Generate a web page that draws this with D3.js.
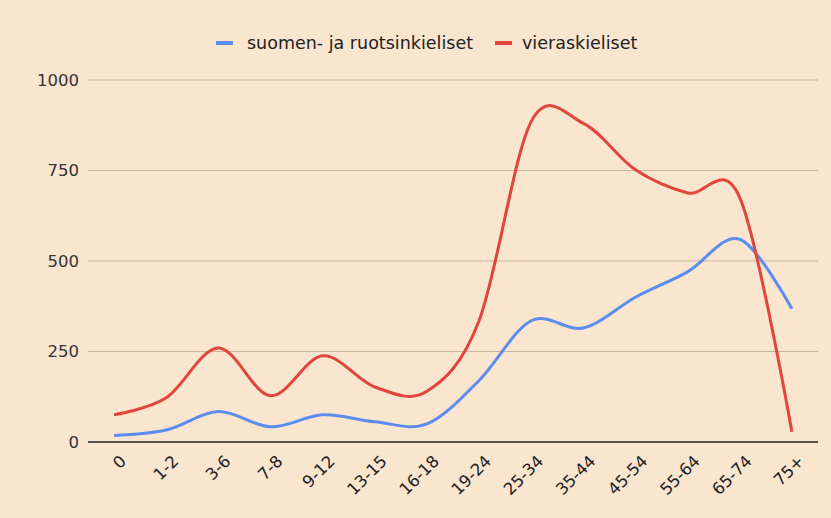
<!DOCTYPE html>
<html>
<head>
<meta charset="utf-8">
<script src="https://cdn.jsdelivr.net/npm/d3@7"></script>
<style>
  body { margin: 0; background: #fae5cf; }
  svg { display: block; font-family: "DejaVu Sans", sans-serif; }
</style>
</head>
<body>
<div id="chart"></div>
<script>
// age groups on the x axis
var ageGroups = ["0", "1-2", "3-6", "7-8", "9-12", "13-15", "16-18", "19-24",
                 "25-34", "35-44", "45-54", "55-64", "65-74", "75+"];
// finnish- and swedish-speaking
var nativeVals = [18, 33, 84, 42, 75, 56, 50, 170, 335, 315, 400, 470, 560, 368];
// foreign-language speakers
var foreignVals = [75, 122, 260, 128, 238, 152, 140, 335, 885, 880, 752, 688, 675, 28];
var yTicks = [0, 250, 500, 750, 1000];
var seriesNames = ["suomen- ja ruotsinkieliset", "vieraskieliset"];
var seriesColors = ["#5b8def", "#e0463b"];

var w = 831, h = 518;
var margin = {left: 88, right: 13, top: 80, bottom: 76};

var svg = d3.select("#chart").append("svg")
    .attr("width", w)
    .attr("height", h);

svg.append("rect")
    .attr("width", w).attr("height", h)
    .attr("fill", "#fae5cf");

var xScale = d3.scaleBand()
    .domain(ageGroups)
    .range([margin.left, w - margin.right]);

var yScale = d3.scaleLinear()
    .domain([0, 1000])
    .range([h - margin.bottom, margin.top]);

// gridlines
svg.append("g")
    .selectAll("line")
    .data(yTicks.slice(1))
    .enter()
    .append("line")
    .attr("x1", margin.left)
    .attr("x2", w - margin.right)
    .attr("y1", function(d) { return yScale(d); })
    .attr("y2", function(d) { return yScale(d); })
    .attr("stroke", "#c9b49d")
    .attr("stroke-width", 1);

// y labels
svg.append("g")
    .selectAll("text")
    .data(yTicks)
    .enter()
    .append("text")
    .attr("x", margin.left - 9)
    .attr("y", function(d) { return yScale(d); })
    .attr("dy", "0.36em")
    .attr("text-anchor", "end")
    .attr("font-size", "16.5px")
    .attr("fill", "#333")
    .text(function(d) { return d; });

// x labels, rotated
svg.append("g")
    .selectAll("text")
    .data(ageGroups)
    .enter()
    .append("text")
    .attr("transform", function(d) {
        var x = xScale(d) + xScale.bandwidth() / 2 + 9;
        return "translate(" + x + "," + (yScale(0) + 16) + ") rotate(-45)";
    })
    .attr("dy", "0.36em")
    .attr("text-anchor", "end")
    .attr("font-size", "16.5px")
    .attr("fill", "#222")
    .text(function(d) { return d; });

var line = d3.line()
    .x(function(d, i) { return xScale(ageGroups[i]) + xScale.bandwidth() / 2; })
    .y(function(d) { return yScale(d); })
    .curve(d3.curveCardinal.tension(0));

[nativeVals, foreignVals].forEach(function(vals, i) {
    svg.append("path")
        .datum(vals)
        .attr("fill", "none")
        .attr("stroke", seriesColors[i])
        .attr("stroke-width", 3)
        .attr("stroke-linejoin", "round")
        .attr("d", line);
});

// baseline
svg.append("line")
    .attr("x1", margin.left)
    .attr("x2", w - margin.right)
    .attr("y1", yScale(0))
    .attr("y2", yScale(0))
    .attr("stroke", "#222")
    .attr("stroke-width", 1.5);

// legend
var swatchX = [216, 495];
var labelX = [247, 522];
var legend = svg.append("g");
seriesNames.forEach(function(name, i) {
    legend.append("line")
        .attr("x1", swatchX[i]).attr("x2", swatchX[i] + 17)
        .attr("y1", 43).attr("y2", 43)
        .attr("stroke", seriesColors[i])
        .attr("stroke-width", 4);
    legend.append("text")
        .attr("x", labelX[i])
        .attr("y", 43)
        .attr("dy", "0.36em")
        .attr("font-size", "17.5px")
        .attr("fill", "#222")
        .text(name);
});
</script>
</body>
</html>
